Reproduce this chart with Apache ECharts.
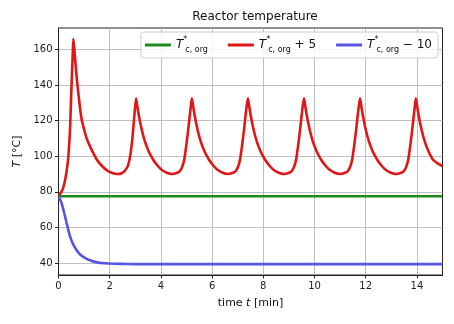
<!DOCTYPE html>
<html>
<head>
<meta charset="utf-8">
<script src="https://cdn.jsdelivr.net/npm/echarts@6/dist/echarts.min.js"></script>
<style>
  html, body { margin: 0; padding: 0; background: #fff; }
  #chart { width: 454px; height: 324px; }
</style>
</head>
<body>
<div id="chart"></div>
<script>
// Reactor temperature over time for three coolant set-points
const FONT = 'DejaVu Sans';

const seriesNames = ['base', 'plus5', 'minus10'];
const seriesColors = ['#1c8c1c', '#e01616', '#5555e0'];

const xTicks = [0, 2, 4, 6, 8, 10, 12, 14];
const yTicks = [40, 60, 80, 100, 120, 140, 160];

// Nominal coolant temperature: reactor stays at steady state
const baseT = [0, 15];
const baseV = [77.5, 77.5];

// Coolant +5: limit cycle of temperature spikes
const plusT = [
  0.0, 0.1, 0.2, 0.3, 0.38, 0.45, 0.5, 0.55, 0.58, 0.62, 0.67, 0.72, 0.8, 0.9, 1.0, 1.1, 1.2, 1.35, 1.5, 1.7, 1.9, 2.1, 2.3, 2.45, 2.6, 2.72, 2.82, 2.9, 2.97, 3.03,
  3.08, 3.15, 3.25, 3.38, 3.53, 3.70, 3.88, 4.03, 4.23, 4.43, 4.58, 4.73, 4.83, 4.91, 4.99, 5.06, 5.12, 5.17, 5.21,
  5.26, 5.33, 5.43, 5.56, 5.71, 5.88, 6.06, 6.21, 6.41, 6.61, 6.76, 6.91, 7.01, 7.09, 7.17, 7.24, 7.30, 7.35, 7.40,
  7.45, 7.52, 7.62, 7.75, 7.90, 8.07, 8.25, 8.40, 8.60, 8.80, 8.95, 9.10, 9.20, 9.28, 9.36, 9.43, 9.49, 9.54, 9.59,
  9.64, 9.71, 9.81, 9.94, 10.09, 10.26, 10.44, 10.59, 10.79, 10.99, 11.14, 11.29, 11.39, 11.47, 11.55, 11.62, 11.68, 11.73, 11.78,
  11.83, 11.90, 12.00, 12.13, 12.28, 12.45, 12.63, 12.78, 12.98, 13.18, 13.33, 13.48, 13.58, 13.66, 13.74, 13.81, 13.87, 13.92, 13.96,
  14.01, 14.08, 14.18, 14.31, 14.46, 14.63, 14.81, 15.0
];
const plusV = [
  78, 79.5, 83, 90, 99, 115, 136, 155, 166, 160, 151, 143, 132, 121, 115, 110, 106.5, 102, 98, 94.5, 92, 90.6, 90, 90.3, 92, 95, 102, 112, 124, 132.5,
  128, 122, 115, 108, 102.5, 98, 94.5, 92.4, 90.7, 90, 90.4, 91.5, 94, 98, 106, 114, 122, 128, 132.5,
  128, 122, 115, 108, 102.5, 98, 94.5, 92.4, 90.7, 90, 90.4, 91.5, 94, 98, 106, 114, 122, 128, 132.5,
  128, 122, 115, 108, 102.5, 98, 94.5, 92.4, 90.7, 90, 90.4, 91.5, 94, 98, 106, 114, 122, 128, 132.5,
  128, 122, 115, 108, 102.5, 98, 94.5, 92.4, 90.7, 90, 90.4, 91.5, 94, 98, 106, 114, 122, 128, 132.5,
  128, 122, 115, 108, 102.5, 98, 94.5, 92.4, 90.7, 90, 90.4, 91.5, 94, 98, 106, 114, 122, 128, 132.5,
  128, 122, 115, 108, 102.5, 98, 96, 94.5
];

// Coolant -10: reactor cools down to a low steady state
const minusT = [0, 0.1, 0.2, 0.3, 0.45, 0.6, 0.8, 1.0, 1.2, 1.5, 1.8, 2.2, 2.6, 3.0, 15];
const minusV = [77.5, 74.5, 69.5, 63.5, 55, 49.8, 45.5, 43.2, 41.7, 40.4, 39.9, 39.6, 39.5, 39.4, 39.4];

const zip = (t, v) => t.map((x, i) => [x, v[i]]);

const legendText = {
  base: '{t|T}{sup|*}{sub|c, org}',
  plus5: '{t|T}{sup|*}{sub|c, org}{n| + 5}',
  minus10: '{t|T}{sup|*}{sub|c, org}{n| − 10}'
};

const chart = echarts.init(document.getElementById('chart'), null, { renderer: 'canvas' });

chart.setOption({
  animation: false,
  backgroundColor: '#fff',
  textStyle: { fontFamily: FONT },
  title: {
    text: 'Reactor temperature',
    left: 250,
    textAlign: 'center',
    top: 6,
    textStyle: { fontFamily: FONT, fontSize: 12, fontWeight: 'normal', color: '#111' }
  },
  grid: {
    left: 58.5, right: 11.5, top: 28, bottom: 49,
    show: true, borderColor: '#222', borderWidth: 1, backgroundColor: 'transparent'
  },
  legend: {
    data: seriesNames,
    right: 16,
    top: 32,
    orient: 'horizontal',
    icon: 'rect',
    itemWidth: 26,
    itemHeight: 3,
    itemGap: 20,
    padding: [4, 6, 4, 4],
    borderColor: '#cccccc',
    borderWidth: 1,
    borderRadius: 3,
    backgroundColor: 'rgba(255,255,255,0.85)',
    formatter: name => legendText[name],
    textStyle: {
      fontFamily: FONT,
      color: '#111',
      rich: {
        t: { fontFamily: FONT, fontStyle: 'italic', fontSize: 12, lineHeight: 18, verticalAlign: 'middle' },
        sup: { fontFamily: FONT, fontSize: 8, width: 1, verticalAlign: 'top', lineHeight: 18 },
        sub: { fontFamily: FONT, fontSize: 8, verticalAlign: 'bottom', lineHeight: 16, padding: [0, 0, 0, 1] },
        n: { fontFamily: FONT, fontSize: 12, lineHeight: 18, verticalAlign: 'middle' }
      }
    }
  },
  xAxis: {
    type: 'value',
    min: 0,
    max: 15,
    name: '{a|time }{i|t}{a| [min]}',
    nameLocation: 'middle',
    nameGap: 23,
    nameTextStyle: {
      rich: {
        a: { fontFamily: FONT, fontSize: 11, color: '#111' },
        i: { fontFamily: FONT, fontSize: 11, fontStyle: 'italic', color: '#111' }
      }
    },
    axisLine: { show: true, onZero: false, lineStyle: { color: '#222', width: 1 } },
    axisTick: { show: true, customValues: xTicks, length: 3.5, inside: false, lineStyle: { color: '#222' } },
    axisLabel: { customValues: xTicks, fontFamily: FONT, fontSize: 10, color: '#222', margin: 6 },
    splitLine: { show: true, lineStyle: { color: '#b0b0b0', width: 0.8 } }
  },
  yAxis: {
    type: 'value',
    min: 33.3,
    max: 172,
    name: '{i|T}{a| [°C]}',
    nameLocation: 'middle',
    nameGap: 31,
    nameRotate: 90,
    nameTextStyle: {
      rich: {
        a: { fontFamily: FONT, fontSize: 11, color: '#111' },
        i: { fontFamily: FONT, fontSize: 11, fontStyle: 'italic', color: '#111' }
      }
    },
    axisLine: { show: true, onZero: false, lineStyle: { color: '#222', width: 1 } },
    axisTick: { show: true, customValues: yTicks, length: 3.5, inside: false, lineStyle: { color: '#222' } },
    axisLabel: { customValues: yTicks, fontFamily: FONT, fontSize: 10, color: '#222', margin: 6 },
    splitLine: { show: true, lineStyle: { color: '#b0b0b0', width: 0.8 } }
  },
  series: [
    {
      name: 'base', type: 'line', data: zip(baseT, baseV),
      showSymbol: false, symbol: 'none', color: seriesColors[0],
      lineStyle: { width: 2.6, color: seriesColors[0] }, z: 2
    },
    {
      name: 'plus5', type: 'line', data: zip(plusT, plusV),
      showSymbol: false, symbol: 'none', color: seriesColors[1], smooth: 0.2,
      lineStyle: { width: 2.6, color: seriesColors[1] }, z: 3
    },
    {
      name: 'minus10', type: 'line', data: zip(minusT, minusV),
      showSymbol: false, symbol: 'none', color: seriesColors[2], smooth: 0.3,
      lineStyle: { width: 2.6, color: seriesColors[2] }, z: 4
    }
  ]
});
</script>
</body>
</html>
